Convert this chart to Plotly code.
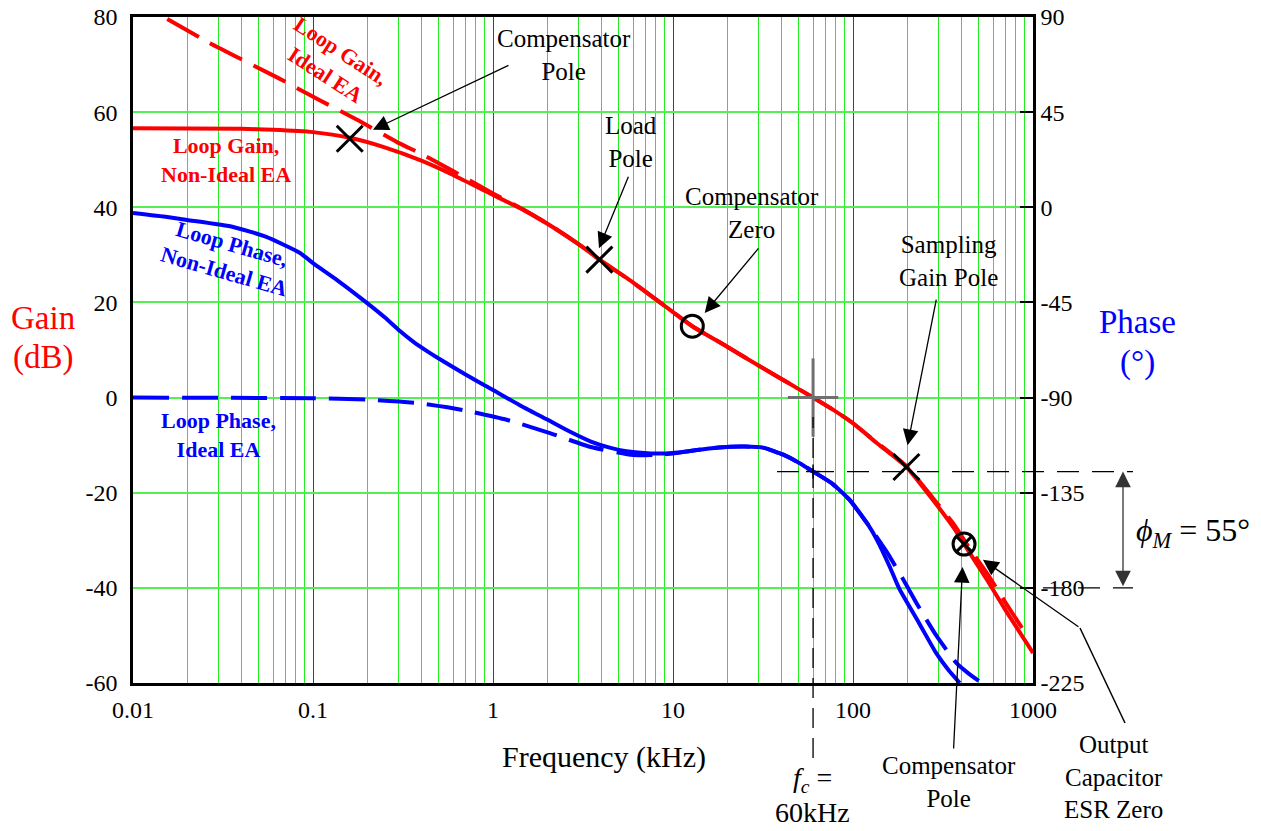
import math
import plotly.graph_objects as go

# ---- loop gain (dB) vs frequency (kHz) ----
gain_freq = [0.01, 0.04, 0.06, 0.1, 0.16, 0.25, 0.4, 0.6, 1.0, 1.5, 2.2, 3.0, 3.9, 5.5, 8.0,
             12.8, 20, 30, 45, 60, 80, 100, 136, 198, 279, 363, 414, 557, 712, 1000]
gain_db = [56.6, 56.5, 56.3, 55.8, 54.6, 52.6, 49.8, 46.8, 42.6, 39.3, 35.6, 32.2, 29.0, 25.2,
           20.7, 15.0, 10.7, 6.7, 2.8, 0.0, -2.9, -5.4, -9.6, -14.6, -21.6, -27.4, -30.8,
           -38.4, -45.0, -53.7]

ideal_gain_freq = [0.0155, 0.0268, 0.0639, 0.109, 0.178, 0.293, 0.4, 0.6, 1.0, 1.5, 2.2, 3.0,
                   3.9, 5.5, 8.0, 12.8, 20, 30, 45, 60, 80, 100, 136, 198, 279, 363, 450,
                   557, 712, 885]
ideal_gain_db = [79.6, 74.5, 67.2, 62.5, 58.3, 53.7, 51.2, 47.6, 42.9, 39.4, 35.6, 32.2,
                 29.0, 25.2, 20.7, 15.0, 10.7, 6.7, 2.8, 0.0, -2.9, -5.4, -9.5, -14.4, -21.2,
                 -26.6, -32.0, -37.0, -43.4, -48.9]

# ---- loop phase (deg) vs frequency (kHz) ----
phase_freq = [0.01, 0.0155, 0.02, 0.036, 0.055, 0.0847, 0.1, 0.136, 0.2, 0.25, 0.304, 0.36,
              0.43, 0.51, 0.7, 1.0, 1.4, 2.0, 2.7, 3.5, 4.5, 5.5, 7.5, 10, 13, 18, 25, 32,
              41, 50, 60, 77, 96, 121, 136, 160, 181, 233, 290, 340, 392]
phase_deg = [-2.7, -4.6, -6.0, -9.3, -14.0, -21.6, -26.4, -34.4, -45.3, -52.0, -58.5, -63.5,
             -68.0, -72.0, -79.0, -86.4, -93.5, -100.4, -106.3, -110.8, -113.8, -115.4, -116.4,
             -116.2, -115.0, -113.6, -113.2, -113.8, -117.0, -120.8, -125.0, -130.8, -138.5,
             -150.0, -157.4, -170.0, -180.5, -196.7, -210.9, -219.0, -225.0]

ideal_phase_freq = [0.01, 0.1, 0.2, 0.38, 0.68, 1.2, 2.07, 3.5, 6.0, 8.5, 10, 13, 18, 25, 32,
                    41, 50, 60, 77, 96, 121, 154, 193, 230, 290, 376, 436, 500]
ideal_phase_deg = [-90.0, -90.3, -91.0, -92.6, -95.9, -100.6, -106.8, -113.4, -117.2, -117.0,
                   -116.5, -115.0, -113.6, -113.2, -113.8, -117.0, -120.8, -125.0, -130.8,
                   -138.5, -150.0, -163.0, -177.0, -188.5, -202.5, -215.6, -220.3, -224.0]

# ---- poles / zeros marked on the gain curve ----
pole_freq = [0.16, 3.9, 198]
pole_gain = [54.4, 29.0, -14.6]
zero_freq = [12.8]
zero_gain = [15.0]
esr_freq = [414]
esr_gain = [-30.8]

fc = 60            # crossover frequency, kHz
phase_margin = 55  # degrees
phase_at_fc = -180 + phase_margin

x_ticks = [0.01, 0.1, 1, 10, 100, 1000]
x_ticktext = ["0.01", "0.1", "1", "10", "100", "1000"]
x_minor = [m * 10 ** d for d in range(-2, 3) for m in range(2, 10)]
gain_ticks = [-60, -40, -20, 0, 20, 40, 60, 80]
phase_ticks = [-225, -180, -135, -90, -45, 0, 45, 90]

RED = "#ff0000"
BLUE = "#0000ff"
FONT = "Liberation Serif"

W, H = 1261, 831
L, R, T, B = 133, 228, 17, 148
PW, PH = W - L - R, H - T - B


def px(x):
    return (x - L) / PW


def py(y):
    return (H - B - y) / PH


def phase_paper(p):
    return (p + 225) / 315


def freq_paper(f):
    return (math.log10(f) + 2) / 5


fig = go.Figure()

fig.add_trace(go.Scatter(x=ideal_gain_freq, y=ideal_gain_db, mode="lines",
                         line=dict(color=RED, width=4, dash="36px,13px", shape="spline", smoothing=0.5),
                         yaxis="y", hoverinfo="skip"))
fig.add_trace(go.Scatter(x=gain_freq, y=gain_db, mode="lines",
                         line=dict(color=RED, width=4, shape="spline", smoothing=0.5),
                         yaxis="y", hoverinfo="skip"))
fig.add_trace(go.Scatter(x=ideal_phase_freq, y=ideal_phase_deg, mode="lines",
                         line=dict(color=BLUE, width=4, dash="36px,13px", shape="spline", smoothing=0.5),
                         yaxis="y2", hoverinfo="skip"))
fig.add_trace(go.Scatter(x=phase_freq, y=phase_deg, mode="lines",
                         line=dict(color=BLUE, width=4, shape="spline", smoothing=0.5),
                         yaxis="y2", hoverinfo="skip"))

# crossover marker
fig.add_trace(go.Scatter(x=[fc], y=[0], mode="markers", yaxis="y",
                         marker=dict(symbol="line-ns", size=56, line=dict(color="#707070", width=3))))
fig.add_trace(go.Scatter(x=[fc], y=[0], mode="markers", yaxis="y",
                         marker=dict(symbol="line-ew", size=36, line=dict(color="#707070", width=3))))
fig.add_trace(go.Scatter(x=[fc], y=[phase_at_fc], mode="markers", yaxis="y2",
                         marker=dict(symbol="cross-thin", size=10, line=dict(color="black", width=1.5))))

# pole / zero markers
fig.add_trace(go.Scatter(x=pole_freq, y=pole_gain, mode="markers", yaxis="y",
                         marker=dict(symbol="x-thin", size=26, line=dict(color="black", width=3))))
fig.add_trace(go.Scatter(x=zero_freq, y=zero_gain, mode="markers", yaxis="y",
                         marker=dict(symbol="circle-open", size=22, color="black",
                                     line=dict(color="black", width=3))))
fig.add_trace(go.Scatter(x=esr_freq, y=esr_gain, mode="markers", yaxis="y",
                         marker=dict(symbol="circle-x-open", size=22, color="black",
                                     line=dict(color="black", width=3))))

annotations = []


def label(text, x, y, size=25, color="black", angle=0):
    annotations.append(dict(text=text, x=px(x), y=py(y), xref="paper", yref="paper",
                            showarrow=False, xanchor="center", yanchor="middle",
                            textangle=angle, font=dict(family=FONT, size=size, color=color)))


def arrow(f, g, ax, ay):
    annotations.append(dict(text="", x=math.log10(f), y=g, xref="x", yref="y",
                            showarrow=True, ax=ax, ay=ay, arrowhead=2, arrowsize=2.4,
                            arrowwidth=1.3, arrowcolor="black"))


label("<b>Loop Gain,<br>Ideal EA</b>", 333, 63, 22, RED, 33)
label("<b>Loop Gain,<br>Non-Ideal EA</b>", 226, 160, 22, RED)
label("<b>Loop Phase,<br>Non-Ideal EA</b>", 228, 258, 22, BLUE, 16)
label("<b>Loop Phase,<br>Ideal EA</b>", 218, 435, 22, BLUE)

label("Compensator<br>Pole", 564, 55)
label("Load<br>Pole", 631, 142)
label("Compensator<br>Zero", 752, 213)
label("Sampling<br>Gain Pole", 948, 261)
label("Compensator<br>Pole", 949, 782)
label("Output<br>Capacitor<br>ESR Zero", 1113, 777)

label("Frequency (kHz)", 604, 757, 30)
label("<i>f<sub>c</sub></i> =", 812, 779, 28)
label("60kHz", 812, 812, 28)
label("Gain", 43, 318, 33, RED)
label("(dB)", 43, 357, 33, RED)
label("Phase", 1137, 322, 33, BLUE)
label("(°)", 1137, 362, 33, BLUE)
label("<i>ϕ<sub>M</sub></i> = 55°", 1193, 532, 32)

arrow(0.2154, 56.3, 137, -65)
arrow(3.88, 31.4, 30, -73)
arrow(15.0, 17.8, 55, -66)
arrow(201, -10.0, 29, -147)
arrow(406, -35.6, -9, 183)
arrow(527, -34.1, 97, 68)

# phase-margin double arrow
annotations.append(dict(text="", x=px(1123), y=phase_paper(phase_at_fc), xref="paper", yref="paper",
                        showarrow=True, ax=0, ay=phase_margin * PH / 315, arrowside="end+start",
                        arrowhead=2, arrowsize=2.4, arrowwidth=1.3, arrowcolor="#333333"))

shapes = [
    # crossover frequency guide
    dict(type="line", xref="paper", yref="paper", x0=freq_paper(fc), x1=freq_paper(fc),
         y0=py(758), y1=py(417), line=dict(color="black", width=1.3, dash="20px,10px"), layer="above"),
    # phase at crossover
    dict(type="line", xref="paper", yref="paper", x0=px(777), x1=px(1133),
         y0=phase_paper(phase_at_fc), y1=phase_paper(phase_at_fc),
         line=dict(color="black", width=1.3, dash="22px,13px"), layer="above"),
    # -180 reference
    dict(type="line", xref="paper", yref="paper", x0=px(1043), x1=px(1133),
         y0=phase_paper(-180), y1=phase_paper(-180),
         line=dict(color="black", width=1.3, dash="22px,13px"), layer="above"),
    # leader for ESR zero label
    dict(type="line", xref="paper", yref="paper", x0=px(1080), y0=py(628), x1=px(1125), y1=py(723),
         line=dict(color="black", width=1.5), layer="above"),
]

fig.update_layout(
    width=W, height=H,
    margin=dict(l=L, r=R, t=T, b=B, autoexpand=False),
    paper_bgcolor="white", plot_bgcolor="white",
    showlegend=False,
    font=dict(family=FONT, size=24, color="black"),
    annotations=annotations,
    shapes=shapes,
    xaxis=dict(type="log", range=[-2, 3], tickmode="array", tickvals=x_ticks, ticktext=x_ticktext,
               showgrid=True, gridcolor="#444444", gridwidth=1,
               minor=dict(tickmode="array", tickvals=x_minor, showgrid=True,
                          gridcolor="#22ee22", gridwidth=1, ticks=""),
               showline=True, linecolor="black", linewidth=2.5, mirror=True,
               ticks="", ticklabelstandoff=3, tickfont=dict(family=FONT, size=24),
               zeroline=False, automargin=False),
    yaxis=dict(range=[-60, 80], tickmode="array", tickvals=gain_ticks,
               ticktext=[str(v) for v in gain_ticks],
               showgrid=True, gridcolor="#55ee55", gridwidth=1.5,
               showline=True, linecolor="black", linewidth=2.5, mirror=False,
               ticks="", ticklabelstandoff=8, tickfont=dict(family=FONT, size=24),
               zeroline=False, automargin=False),
    yaxis2=dict(range=[-225, 90], overlaying="y", side="right", tickmode="array",
                tickvals=phase_ticks, ticktext=[str(v) for v in phase_ticks],
                showgrid=False, zeroline=False,
                showline=True, linecolor="black", linewidth=2.5,
                ticks="inside", ticklen=13, tickwidth=2, tickcolor="black",
                ticklabelstandoff=0, tickfont=dict(family=FONT, size=24), automargin=False),
)

fig.write_html("out.html")
